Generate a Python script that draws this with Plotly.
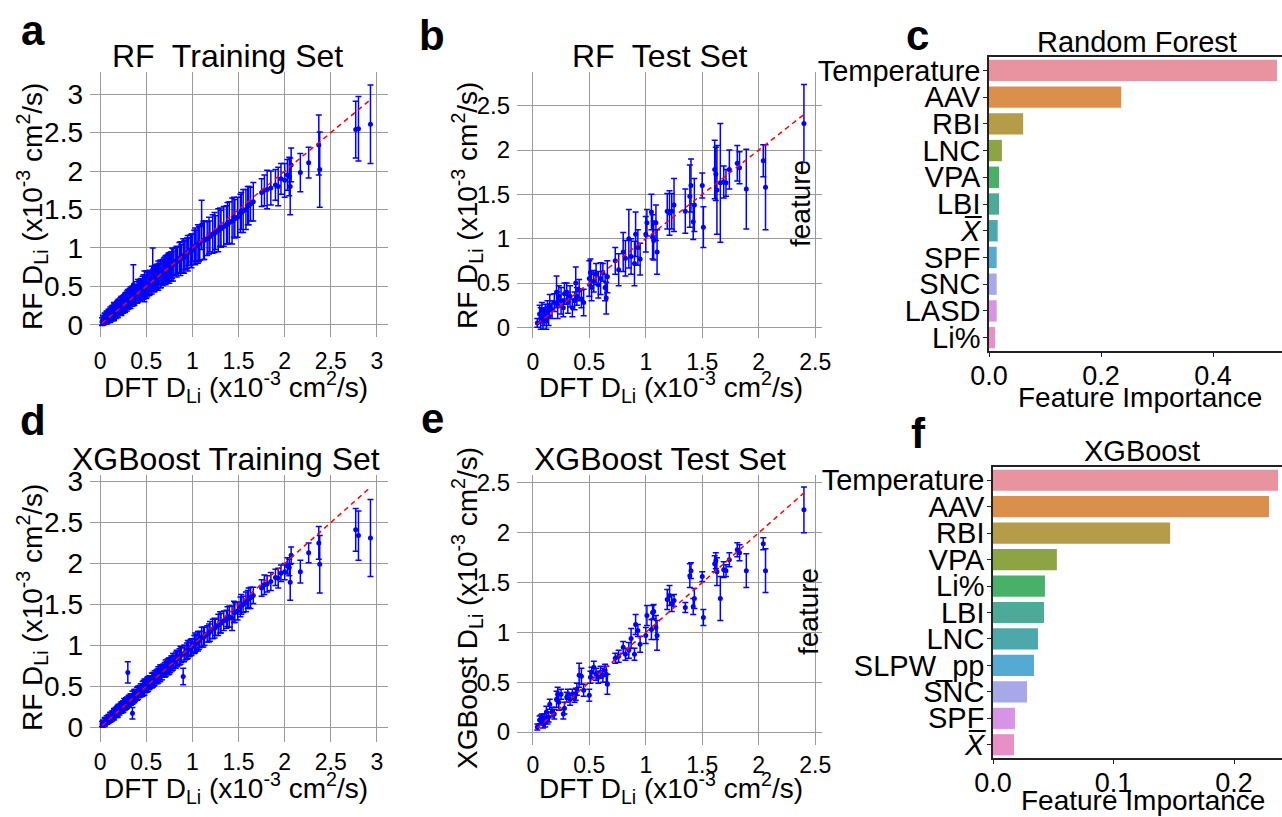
import plotly.graph_objects as go

W, H = 1282, 817
FONT = "Liberation Sans, Arial, sans-serif"

# ---- training set (same DFT values for RF and XGBoost panels) ----
train_dft = [0.02, 0.03, 0.04, 0.05, 0.06, 0.07, 0.08, 0.09, 0.10, 0.11,
             0.12, 0.13, 0.14, 0.15, 0.16, 0.17, 0.18, 0.19, 0.20, 0.21,
             0.22, 0.23, 0.24, 0.25, 0.26, 0.27, 0.28, 0.29, 0.30, 0.31,
             0.32, 0.33, 0.34, 0.35, 0.36, 0.37, 0.38, 0.39, 0.40, 0.42,
             0.44, 0.45, 0.46, 0.48, 0.50, 0.52, 0.53, 0.55, 0.57, 0.58,
             0.60, 0.62, 0.64, 0.65, 0.67, 0.69, 0.70, 0.72, 0.74, 0.76,
             0.78, 0.80, 0.82, 0.84, 0.86, 0.88, 0.90, 0.92, 0.94, 0.96,
             0.98, 1.00, 1.02, 1.04, 1.06, 1.08, 1.10, 1.13, 1.16, 1.19,
             1.22, 1.25, 1.28, 1.31, 1.34, 1.37, 1.40, 1.43, 1.46, 1.49,
             1.52, 1.55, 1.58, 1.60, 1.63, 1.66, 1.75, 1.78, 1.81, 1.85,
             1.90, 1.93, 1.96, 2.00, 2.03, 2.05, 2.06, 2.07, 2.17, 2.26,
             2.37, 2.38, 2.77, 2.80, 2.93,
             0.03, 0.05, 0.07, 0.09, 0.11, 0.13, 0.15, 0.17, 0.19, 0.21,
             0.23, 0.25, 0.27, 0.29, 0.31, 0.33, 0.35, 0.37, 0.41, 0.43,
             0.47, 0.49, 0.51, 0.54, 0.56, 0.59, 0.61, 0.63, 0.66, 0.68,
             0.71, 0.73, 0.75, 0.77, 0.79, 0.83, 0.87, 0.91, 0.95, 0.99,
             1.03, 1.07, 1.12, 1.18, 1.24, 1.30, 1.38, 1.45, 1.53, 1.61]
rf_train_pred = [0.04, 0.06, 0.05, 0.08, 0.07, 0.10, 0.09, 0.12, 0.11, 0.14,
                 0.13, 0.15, 0.16, 0.17, 0.19, 0.18, 0.21, 0.20, 0.23, 0.22,
                 0.25, 0.24, 0.27, 0.26, 0.29, 0.28, 0.31, 0.30, 0.33, 0.32,
                 0.35, 0.34, 0.37, 0.38, 0.52, 0.38, 0.40, 0.41, 0.42, 0.44,
                 0.46, 0.47, 0.48, 0.50, 0.52, 0.54, 0.53, 0.57, 0.72, 0.57,
                 0.62, 0.63, 0.66, 0.66, 0.68, 0.70, 0.72, 0.73, 0.75, 0.76,
                 0.80, 0.80, 0.83, 0.84, 0.87, 0.86, 0.90, 0.91, 0.93, 0.95,
                 0.97, 1.00, 1.01, 1.03, 1.05, 1.06, 1.30, 1.10, 1.12, 1.15,
                 1.18, 1.20, 1.23, 1.25, 1.28, 1.30, 1.33, 1.35, 1.38, 1.40,
                 1.45, 1.48, 1.50, 1.55, 1.57, 1.60, 1.72, 1.75, 1.76, 1.78,
                 1.82, 1.80, 1.90, 1.88, 1.95, 1.93, 1.80, 2.08, 1.98, 2.11,
                 2.34, 2.02, 2.54, 2.55, 2.61,
                 0.06, 0.08, 0.09, 0.11, 0.12, 0.15, 0.17, 0.18, 0.21, 0.23,
                 0.25, 0.27, 0.29, 0.31, 0.33, 0.35, 0.37, 0.39, 0.44, 0.45,
                 0.49, 0.50, 0.53, 0.55, 0.58, 0.60, 0.62, 0.64, 0.66, 0.68,
                 0.71, 0.73, 0.74, 0.76, 0.78, 0.82, 0.86, 0.88, 0.93, 0.96,
                 1.02, 1.05, 1.10, 1.16, 1.20, 1.27, 1.32, 1.40, 1.48, 1.55]
rf_train_err = [0.05, 0.06, 0.05, 0.07, 0.06, 0.08, 0.07, 0.08, 0.07, 0.09,
                0.08, 0.10, 0.09, 0.12, 0.08, 0.10, 0.09, 0.11, 0.10, 0.08,
                0.10, 0.12, 0.09, 0.11, 0.10, 0.12, 0.11, 0.10, 0.13, 0.11,
                0.12, 0.10, 0.11, 0.12, 0.26, 0.13, 0.12, 0.11, 0.14, 0.13,
                0.14, 0.12, 0.15, 0.20, 0.18, 0.14, 0.15, 0.13, 0.28, 0.14,
                0.15, 0.16, 0.14, 0.18, 0.15, 0.17, 0.16, 0.15, 0.18, 0.16,
                0.20, 0.16, 0.18, 0.17, 0.20, 0.18, 0.22, 0.19, 0.20, 0.18,
                0.20, 0.18, 0.22, 0.20, 0.25, 0.22, 0.32, 0.25, 0.22, 0.20,
                0.25, 0.22, 0.28, 0.24, 0.26, 0.25, 0.27, 0.30, 0.25, 0.26,
                0.25, 0.28, 0.26, 0.25, 0.22, 0.25, 0.18, 0.20, 0.25, 0.22,
                0.20, 0.25, 0.20, 0.22, 0.20, 0.25, 0.37, 0.22, 0.25, 0.20,
                0.39, 0.49, 0.37, 0.42, 0.51,
                0.06, 0.07, 0.08, 0.07, 0.09, 0.08, 0.10, 0.09, 0.11, 0.10,
                0.12, 0.11, 0.12, 0.13, 0.12, 0.14, 0.13, 0.12, 0.15, 0.14,
                0.16, 0.15, 0.17, 0.16, 0.18, 0.17, 0.16, 0.19, 0.18, 0.17,
                0.19, 0.18, 0.20, 0.19, 0.21, 0.20, 0.22, 0.21, 0.23, 0.22,
                0.24, 0.23, 0.25, 0.24, 0.26, 0.25, 0.27, 0.26, 0.24, 0.25]
xgb_train_pred = [0.04, 0.05, 0.05, 0.07, 0.07, 0.09, 0.08, 0.10, 0.11, 0.12,
                  0.13, 0.14, 0.15, 0.16, 0.18, 0.18, 0.20, 0.19, 0.22, 0.22,
                  0.23, 0.24, 0.25, 0.26, 0.28, 0.27, 0.29, 0.30, 0.67, 0.32,
                  0.33, 0.34, 0.35, 0.17, 0.37, 0.38, 0.39, 0.40, 0.41, 0.43,
                  0.45, 0.46, 0.47, 0.49, 0.51, 0.53, 0.54, 0.56, 0.58, 0.58,
                  0.61, 0.62, 0.64, 0.66, 0.67, 0.69, 0.70, 0.72, 0.74, 0.76,
                  0.78, 0.80, 0.82, 0.84, 0.86, 0.88, 0.62, 0.91, 0.93, 0.95,
                  0.97, 0.99, 1.01, 1.03, 1.05, 1.07, 1.10, 1.11, 1.14, 1.17,
                  1.20, 1.22, 1.25, 1.27, 1.30, 1.32, 1.35, 1.33, 1.40, 1.42,
                  1.47, 1.50, 1.53, 1.56, 1.58, 1.61, 1.70, 1.74, 1.75, 1.78,
                  1.83, 1.82, 1.88, 1.90, 1.97, 1.95, 1.77, 2.10, 1.90, 2.13,
                  2.25, 1.99, 2.41, 2.34, 2.31,
                  0.04, 0.06, 0.08, 0.10, 0.12, 0.13, 0.16, 0.18, 0.20, 0.21,
                  0.24, 0.25, 0.28, 0.30, 0.32, 0.33, 0.36, 0.38, 0.42, 0.44,
                  0.48, 0.50, 0.52, 0.55, 0.57, 0.60, 0.62, 0.64, 0.67, 0.69,
                  0.72, 0.74, 0.75, 0.78, 0.80, 0.84, 0.88, 0.90, 0.95, 0.98,
                  1.03, 1.06, 1.10, 1.15, 1.21, 1.28, 1.35, 1.41, 1.50, 1.58]
xgb_train_err = [0.03, 0.04, 0.03, 0.05, 0.04, 0.05, 0.04, 0.05, 0.05, 0.06,
                 0.05, 0.06, 0.05, 0.07, 0.05, 0.06, 0.05, 0.07, 0.06, 0.05,
                 0.06, 0.07, 0.05, 0.06, 0.07, 0.06, 0.07, 0.06, 0.13, 0.06,
                 0.06, 0.07, 0.06, 0.07, 0.07, 0.08, 0.07, 0.06, 0.08, 0.07,
                 0.08, 0.07, 0.09, 0.10, 0.08, 0.09, 0.08, 0.07, 0.09, 0.08,
                 0.08, 0.09, 0.08, 0.10, 0.09, 0.08, 0.09, 0.08, 0.10, 0.09,
                 0.09, 0.08, 0.10, 0.09, 0.10, 0.09, 0.10, 0.09, 0.10, 0.09,
                 0.10, 0.09, 0.11, 0.10, 0.12, 0.10, 0.12, 0.11, 0.10, 0.12,
                 0.12, 0.10, 0.13, 0.12, 0.12, 0.11, 0.13, 0.15, 0.12, 0.11,
                 0.12, 0.10, 0.12, 0.11, 0.13, 0.10, 0.10, 0.12, 0.10, 0.11,
                 0.10, 0.12, 0.10, 0.10, 0.10, 0.10, 0.22, 0.10, 0.14, 0.12,
                 0.20, 0.35, 0.26, 0.30, 0.47,
                 0.04, 0.05, 0.04, 0.05, 0.06, 0.05, 0.06, 0.05, 0.07, 0.06,
                 0.06, 0.07, 0.06, 0.07, 0.07, 0.06, 0.08, 0.07, 0.08, 0.07,
                 0.09, 0.08, 0.09, 0.08, 0.09, 0.09, 0.08, 0.10, 0.09, 0.08,
                 0.10, 0.09, 0.10, 0.09, 0.10, 0.10, 0.11, 0.10, 0.11, 0.10,
                 0.12, 0.11, 0.12, 0.11, 0.12, 0.13, 0.12, 0.13, 0.12, 0.12]

# ---- test set ----
test_dft = [0.04, 0.06, 0.07, 0.08, 0.09, 0.10, 0.11, 0.12, 0.13, 0.14,
            0.15, 0.17, 0.19, 0.21, 0.22, 0.23, 0.25, 0.27, 0.28, 0.30,
            0.31, 0.33, 0.35, 0.37, 0.38, 0.39, 0.41, 0.43, 0.45, 0.50,
            0.51, 0.52, 0.54, 0.56, 0.58, 0.60, 0.62, 0.64, 0.65, 0.66,
            0.73, 0.76, 0.80, 0.82, 0.85, 0.87, 0.90, 0.91, 0.93, 0.95,
            1.00, 1.01, 1.05, 1.06, 1.07, 1.09, 1.10, 1.19, 1.21, 1.23,
            1.25, 1.35, 1.39, 1.40, 1.42, 1.43, 1.50, 1.51, 1.61, 1.62,
            1.63, 1.66, 1.69, 1.71, 1.74, 1.81, 1.83, 1.89, 2.04, 2.06,
            2.40]
rf_test_pred = [0.05, 0.15, 0.10, 0.20, 0.08, 0.12, 0.18, 0.07, 0.22, 0.12,
                0.25, 0.20, 0.28, 0.40, 0.25, 0.35, 0.30, 0.22, 0.38, 0.40,
                0.28, 0.35, 0.22, 0.30, 0.50, 0.35, 0.42, 0.32, 0.28, 0.55,
                0.62, 0.45, 0.52, 0.60, 0.48, 0.55, 0.62, 0.45, 0.33, 0.57,
                0.75, 0.65, 0.85, 0.78, 1.00, 0.80, 0.72, 1.05, 0.90, 0.77,
                1.05, 1.18, 1.30, 1.02, 0.98, 1.18, 0.85, 1.31, 1.29, 1.31,
                1.38, 1.31, 1.48, 1.60, 1.19, 1.38, 1.60, 1.13, 1.78, 1.73,
                1.55, 1.63, 1.64, 1.63, 1.78, 1.85, 1.80, 1.56, 1.88, 1.58,
                2.30]
rf_test_err = [0.05, 0.10, 0.12, 0.08, 0.10, 0.10, 0.08, 0.09, 0.08, 0.10,
               0.12, 0.10, 0.10, 0.18, 0.15, 0.12, 0.15, 0.10, 0.12, 0.10,
               0.12, 0.12, 0.10, 0.10, 0.18, 0.10, 0.12, 0.10, 0.15, 0.20,
               0.15, 0.15, 0.12, 0.12, 0.15, 0.18, 0.10, 0.15, 0.18, 0.18,
               0.15, 0.18, 0.22, 0.20, 0.33, 0.20, 0.25, 0.25, 0.20, 0.18,
               0.20, 0.15, 0.20, 0.25, 0.22, 0.20, 0.25, 0.20, 0.25, 0.20,
               0.30, 0.25, 0.35, 0.30, 0.20, 0.30, 0.14, 0.23, 0.33, 0.30,
               0.50, 0.67, 0.18, 0.15, 0.22, 0.20, 0.18, 0.45, 0.18, 0.48,
               0.44]
xgb_test_pred = [0.05, 0.12, 0.12, 0.14, 0.08, 0.13, 0.10, 0.20, 0.12, 0.15,
                 0.28, 0.20, 0.18, 0.33, 0.38, 0.30, 0.38, 0.18, 0.24, 0.35,
                 0.38, 0.33, 0.38, 0.35, 0.38, 0.43, 0.57, 0.56, 0.42, 0.37,
                 0.55, 0.60, 0.65, 0.58, 0.55, 0.60, 0.57, 0.62, 0.58, 0.48,
                 0.74, 0.76, 0.85, 0.78, 0.82, 0.94, 0.78, 1.08, 1.02, 0.88,
                 0.97, 1.17, 1.03, 1.20, 1.21, 1.05, 0.97, 1.33, 1.37, 1.29,
                 1.32, 1.25, 1.57, 1.62, 1.26, 1.34, 1.56, 1.15, 1.69, 1.72,
                 1.61, 1.34, 1.63, 1.62, 1.73, 1.83, 1.80, 1.62, 1.89, 1.62,
                 2.23]
xgb_test_err = [0.03, 0.04, 0.05, 0.04, 0.04, 0.05, 0.05, 0.06, 0.04, 0.05,
                0.05, 0.05, 0.05, 0.08, 0.07, 0.08, 0.05, 0.05, 0.06, 0.05,
                0.05, 0.06, 0.05, 0.05, 0.06, 0.06, 0.12, 0.08, 0.06, 0.06,
                0.06, 0.05, 0.06, 0.06, 0.06, 0.06, 0.07, 0.06, 0.08, 0.10,
                0.05, 0.06, 0.06, 0.06, 0.08, 0.10, 0.06, 0.10, 0.06, 0.08,
                0.08, 0.10, 0.10, 0.07, 0.07, 0.12, 0.15, 0.10, 0.10, 0.08,
                0.06, 0.05, 0.12, 0.08, 0.08, 0.10, 0.05, 0.08, 0.08, 0.08,
                0.14, 0.22, 0.08, 0.06, 0.07, 0.07, 0.08, 0.17, 0.06, 0.22,
                0.23]

# ---- feature importances ----
xbar = "<i>X\u0305</i>"
rf_features = ["Temperature", "AAV", "RBI", "LNC", "VPA", "LBI", xbar,
               "SPF", "SNC", "LASD", "Li%"]
rf_importance = [0.514, 0.236, 0.061, 0.023, 0.018, 0.018, 0.0155,
                 0.0137, 0.0137, 0.0137, 0.0107]
xgb_features = ["Temperature", "AAV", "RBI", "VPA", "Li%", "LBI", "LNC",
                "SLPW_pp", "SNC", "SPF", xbar]
xgb_importance = [0.2365, 0.229, 0.147, 0.053, 0.0431, 0.0423, 0.0373,
                  0.034, 0.0282, 0.0182, 0.0174]
bar_colors = ["#E8939F", "#DB8F4D", "#B49C48", "#8DA444", "#48B068", "#4BAB98",
              "#4DA8AC", "#54AAD2", "#A7A8E8", "#D794E4", "#E78FC6"]

ticks_3 = [0, 0.5, 1, 1.5, 2, 2.5, 3]
ticks_3_txt = ["0", "0.5", "1", "1.5", "2", "2.5", "3"]
ticks_25 = [0, 0.5, 1, 1.5, 2, 2.5]
ticks_25_txt = ["0", "0.5", "1", "1.5", "2", "2.5"]


def px_x(p):
    return p / W


def px_y(p):
    return 1 - p / H


fig = go.Figure()


def scatter_panel(n, xs, ys, es, xr, yr, dom_x, dom_y, xt, xtt, yt, ytt, yfs, xoff):
    sfx = "" if n == 1 else str(n)
    fig.add_trace(go.Scatter(
        x=xs, y=ys, mode="markers",
        marker=dict(color="blue", size=5),
        error_y=dict(type="data", array=es, color="blue", thickness=1.5, width=3),
        xaxis="x" + sfx, yaxis="y" + sfx, showlegend=False))
    lo, hi = min(xs), max(xs)
    fig.add_trace(go.Scatter(
        x=[lo, hi], y=[lo, hi], mode="lines",
        line=dict(color="red", width=1.5, dash="5px,4px"),
        xaxis="x" + sfx, yaxis="y" + sfx, showlegend=False))
    common = dict(showgrid=True, gridcolor="#9a9a9a", gridwidth=1.3, zeroline=False,
                  showline=False, ticks="", automargin=False)
    fig.layout["xaxis" + sfx] = dict(domain=[px_x(dom_x[0]), px_x(dom_x[1])], range=xr,
                                     anchor="y" + sfx, tickvals=xt, ticktext=xtt,
                                     ticklabelstandoff=xoff,
                                     tickfont=dict(family=FONT, size=23, color="black"),
                                     **common)
    fig.layout["yaxis" + sfx] = dict(domain=[px_y(dom_y[1]), px_y(dom_y[0])], range=yr,
                                     anchor="x" + sfx, tickvals=yt, ticktext=ytt,
                                     ticklabelstandoff=6,
                                     tickfont=dict(family=FONT, size=yfs, color="black"),
                                     **common)


def bar_panel(n, feats, vals, xr, dom_x, dom_y, xt, xtt):
    sfx = str(n)
    fig.add_trace(go.Bar(
        x=vals, y=feats, orientation="h", marker=dict(color=bar_colors, line=dict(width=0)),
        xaxis="x" + sfx, yaxis="y" + sfx, showlegend=False))
    common = dict(showline=True, linecolor="#222", linewidth=1.5, mirror=True,
                  showgrid=False, zeroline=False, ticks="outside", ticklen=4,
                  tickcolor="#222", tickwidth=1.2, automargin=False)
    fig.layout["xaxis" + sfx] = dict(domain=[px_x(dom_x[0]), px_x(dom_x[1])], range=xr,
                                     anchor="y" + sfx, tickvals=xt, ticktext=xtt,
                                     ticklabelstandoff=-4,
                                     tickfont=dict(family=FONT, size=27, color="black"),
                                     **common)
    fig.layout["yaxis" + sfx] = dict(domain=[px_y(dom_y[1]), px_y(dom_y[0])],
                                     anchor="x" + sfx, type="category",
                                     categoryorder="array", categoryarray=feats,
                                     tickmode="array", tickvals=feats,
                                     autorange="reversed", ticklabelstandoff=-3,
                                     tickfont=dict(family=FONT, size=29, color="black"),
                                     **common)


scatter_panel(1, train_dft, rf_train_pred, rf_train_err, [-0.11, 3.12], [-0.16, 3.29],
              (90, 388), (72, 337), ticks_3, ticks_3_txt, ticks_3, ticks_3_txt, 28, 8)
scatter_panel(2, test_dft, rf_test_pred, rf_test_err, [-0.14, 2.56], [-0.12, 2.88],
              (517, 822), (72, 338), ticks_25, ticks_25_txt, ticks_25, ticks_25_txt, 24, 8)
bar_panel(3, rf_features, rf_importance, [0, 0.523], (989, 1282), (57, 351),
          [0, 0.2, 0.4], ["0.0", "0.2", "0.4"])
scatter_panel(4, train_dft, xgb_train_pred, xgb_train_err, [-0.11, 3.12], [-0.18, 3.08],
              (90, 388), (475, 742), ticks_3, ticks_3_txt, ticks_3, ticks_3_txt, 28, 4)
scatter_panel(5, test_dft, xgb_test_pred, xgb_test_err, [-0.14, 2.56], [-0.13, 2.58],
              (517, 822), (475, 745), ticks_25, ticks_25_txt, ticks_25, ticks_25_txt, 24, 4)
bar_panel(6, xgb_features, xgb_importance, [0, 0.2398], (993, 1282), (467, 758),
          [0, 0.1, 0.2], ["0.0", "0.1", "0.2"])

dli = "D<sub>Li</sub> (x10<sup>-3</sup> cm<sup>2</sup>/s)"
notes = [
    # panel letters
    ("a", 33, 30, 42, 0, True), ("b", 432, 35, 42, 0, True), ("c", 917, 35, 42, 0, True),
    ("d", 33, 420, 42, 0, True), ("e", 432, 418, 42, 0, True), ("f", 918, 433, 42, 0, True),
    # titles
    ("RF  Training Set", 227, 56, 32, 0, False), ("RF  Test Set", 660, 56, 32, 0, False),
    ("Random Forest", 1137, 42, 29, 0, False),
    ("XGBoost Training Set", 226, 459, 32, 0, False), ("XGBoost Test Set", 660, 459, 32, 0, False),
    ("XGBoost", 1142, 451, 29, 0, False),
    # axis titles
    ("DFT " + dli, 236, 387, 28, 0, False), ("DFT " + dli, 671, 387, 28, 0, False),
    ("DFT " + dli, 236, 788, 28, 0, False), ("DFT " + dli, 671, 788, 28, 0, False),
    ("RF " + dli, 32, 207, 28, -90, False), ("RF " + dli, 467, 206, 28, -90, False),
    ("RF " + dli, 32, 608, 28, -90, False), ("XGBoost " + dli, 467, 608, 28, -90, False),
    ("Feature Importance", 1140, 398, 28, 0, False), ("Feature Importance", 1143, 800, 28, 0, False),
    ("feature", 800, 204, 28, -90, False), ("feature", 808, 612, 28, -90, False),
]
for txt, x, y, fs, ang, bold in notes:
    fig.add_annotation(text="<b>%s</b>" % txt if bold else txt, x=px_x(x), y=px_y(y),
                       xref="paper", yref="paper", xanchor="center", yanchor="middle",
                       showarrow=False, textangle=ang,
                       font=dict(family=FONT, size=fs, color="black"))

fig.update_layout(width=W, height=H, margin=dict(l=0, r=0, t=0, b=0, autoexpand=False),
                  paper_bgcolor="white", plot_bgcolor="white", bargap=0.2,
                  font=dict(family=FONT, color="black"))

fig.write_html("out.html", config={"displayModeBar": False},
               post_script="document.body.style.margin='0';document.body.style.overflow='hidden';")
